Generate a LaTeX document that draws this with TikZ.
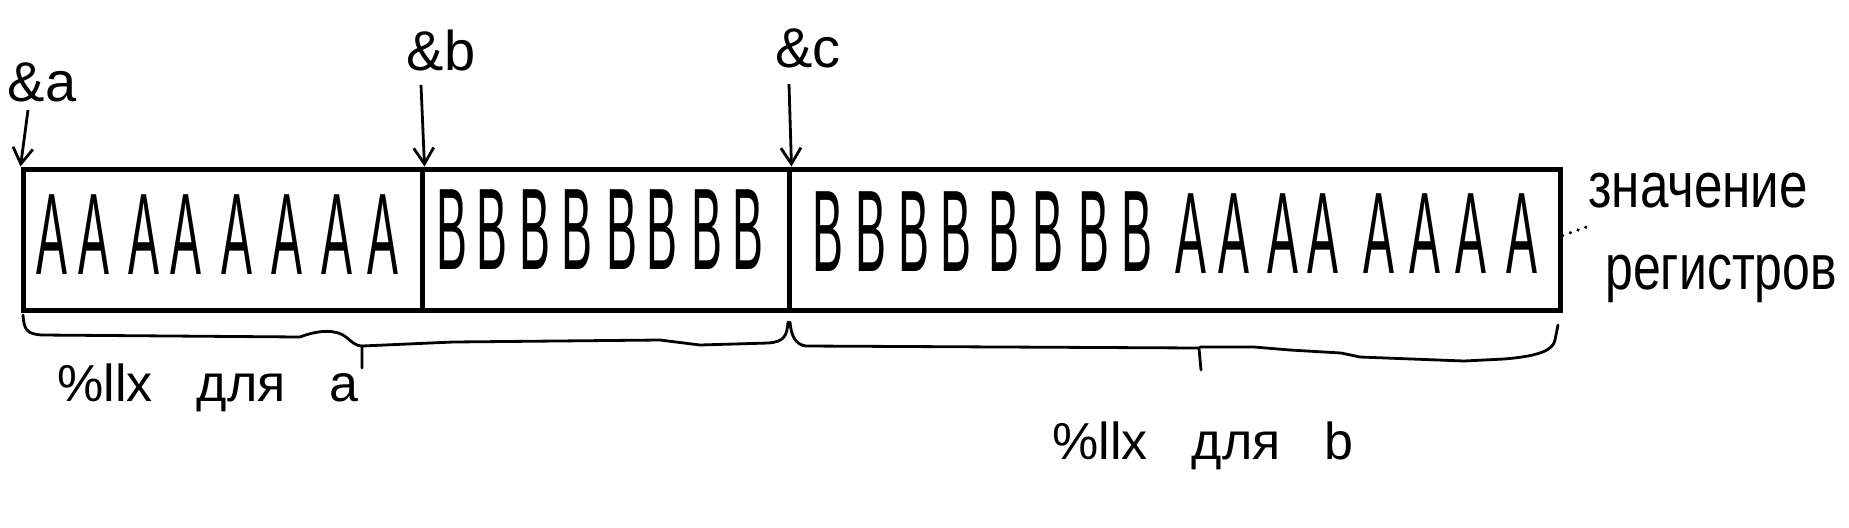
\documentclass[tikz,border=0pt]{standalone}
\usepackage{fontspec}
\setmainfont{Liberation Sans}
\usetikzlibrary{arrows.meta}
\tikzset{
  cell/.style={draw, line width=2.5pt, inner sep=0pt, minimum height=70.5pt},
  glyph/.style={inner sep=0pt, font=\fontsize{58}{58}\selectfont},
  addr/.style={inner sep=0pt, font=\fontsize{28}{28}\selectfont},
  fmt/.style={inner sep=0pt, font=\fontsize{26}{26}\selectfont},
  note/.style={inner sep=0pt, font=\fontsize{32}{32}\selectfont},
  arr/.style={line width=1.4pt, -{Straight Barb[length=8pt,width=10pt]}},
  brace/.style={line width=1.4pt, line join=round, line cap=round},
  dotline/.style={line width=1.7pt, line cap=round, dash pattern=on 0.1pt off 4pt},
}
\begin{document}
\begin{tikzpicture}[x=0.5pt, y=-0.5pt]
  \fill[white] (0,0) rectangle (1849,527);
  \useasboundingbox (0,0) rectangle (1849,527);

  % cells
  \node[cell, minimum width=199.5pt] (c1) at (222.5,239.5) {};
  \node[cell, minimum width=183.5pt] (c2) at (605.5,239.5) {};
  \node[cell, minimum width=385.5pt] (c3) at (1174.5,239.5) {};

  % contents
  \foreach \x [count=\i] in {52,94,144,186,237,287,337,383}
    \node[glyph] (cA\i) at (\x,235) {\scalebox{0.4}[1]{A}};
  \foreach \x [count=\i] in {452,492,535,577,622,662,707,748}
    \node[glyph] (cB\i) at (\x,230) {\scalebox{0.4}[1]{B}};
  \foreach \x [count=\i] in {828,871,914,956,1004,1048,1094,1137}
    \node[glyph] (dB\i) at (\x,232) {\scalebox{0.4}[1]{B}};
  \foreach \x [count=\i] in {1191,1234,1283,1323,1379,1425,1471,1522}
    \node[glyph] (dA\i) at (\x,234) {\scalebox{0.4}[1]{A}};

  % address labels
  \node[addr] (la) at (42,82) {\&a};
  \node[addr] (lb) at (441,50) {\&b};
  \node[addr] (lc) at (808,48) {\&c};
  \draw[arr] ([xshift=-7pt,yshift=-4pt]la.south) -- (c1.north west);
  \draw[arr] ([xshift=-10pt,yshift=-7pt]lb.south) -- (c1.north east);
  \draw[arr] ([xshift=-9.5pt,yshift=-8pt]lc.south) -- (c2.north east);

  % register note
  \node[note, anchor=base west] (v1) at (1588,207) {\scalebox{0.8}[1]{значение}};
  \node[note, anchor=base west] (v2) at (1605,289) {\scalebox{0.78}[1]{регистров}};
  \coordinate (dotend) at (1592,225);
  \draw[dotline] ([yshift=2pt]c3.east) -- (dotend);

  % braces
  \draw[brace] (23,315) .. controls (24,330) and (27,334) .. (42,335)
    -- (300,337) .. controls (318,330) and (336,329) .. (346,337)
    .. controls (352,342) and (356,346) .. (362,346) -- (362,368);
  \draw[brace] (362,346) -- (453,342) -- (660,340) -- (700,345) -- (768,343)
    .. controls (784,342) and (787,336) .. (788,322);
  \draw[brace] (790,322) .. controls (791,336) and (796,345) .. (806,346)
    -- (1199,348) -- (1201,370);
  \draw[brace] (1200,347) -- (1254,347) -- (1290,350) -- (1341,353) -- (1360,357)
    -- (1464,361) -- (1504,359) .. controls (1540,356) and (1553,350) .. (1555,340)
    -- (1558,325);

  % format labels
  \node[fmt] (fa) at (208,388) {\%llx\hspace{22pt}для\hspace{22pt}a};
  \node[fmt] (fb) at (1203,446) {\%llx\hspace{22pt}для\hspace{22pt}b};
\end{tikzpicture}
\end{document}
